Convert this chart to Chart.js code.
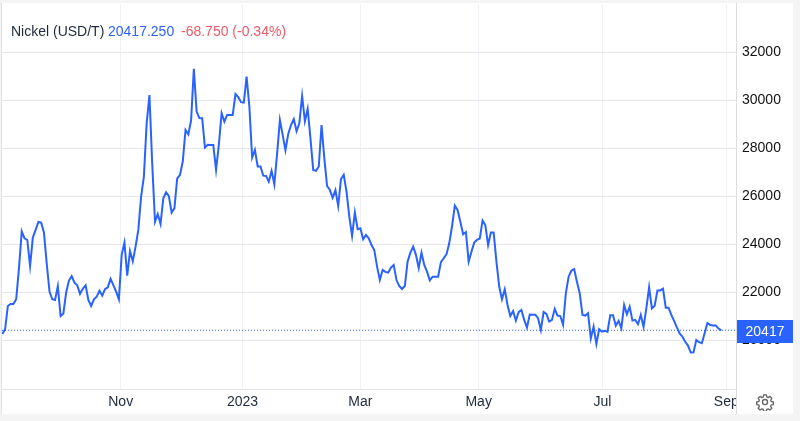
<!DOCTYPE html>
<html><head><meta charset="utf-8">
<style>html,body{margin:0;padding:0;background:#fff;overflow:hidden}#wrap{position:relative;width:800px;height:421px}canvas{display:block}
#gear{position:absolute;left:756px;top:393px;width:18px;height:18px}</style>
<script src="https://cdn.jsdelivr.net/npm/chart.js@4"></script></head>
<body><div id="wrap"><canvas id="c" width="800" height="421"></canvas>
<svg id="gear" viewBox="0 0 24 24" fill="none" stroke="#666" stroke-width="1.8" stroke-linejoin="round"><circle cx="12" cy="12" r="3.4"/><path d="M10.2 2.5h3.6l.5 2.8 1.9.8 2.4-1.6 2.5 2.5-1.6 2.4.8 1.9 2.8.5v3.6l-2.8.5-.8 1.9 1.6 2.4-2.5 2.5-2.4-1.6-1.9.8-.5 2.8h-3.6l-.5-2.8-1.9-.8-2.4 1.6-2.5-2.5 1.6-2.4-.8-1.9-2.8-.5v-3.6l2.8-.5.8-1.9-1.6-2.4 2.5-2.5 2.4 1.6 1.9-.8z"/></svg></div>
<script>
const seriesName = "Nickel (USD/T)";
const lastText = "20417.250";
const changeText = "-68.750 (-0.34%)";
const lastPrice = 20417;
const monthLabels = ["Nov","2023","Mar","May","Jul","Sep"];
const monthPositions = [42.65,86.55,128.95,171.6,216.2,260.8];
const priceTicks = [20000,22000,24000,26000,28000,30000,32000];
const nickelValues = [
20264,20458,21430,21514,21514,21708,23000,24540,24250,24180,23100,24280,24600,24930,24900,24490,23200,22030,21710,21680,
22260,21010,21120,21990,22490,22670,22400,22290,21930,22150,22290,21680,21430,21710,21820,22070,21860,22130,22210,22560,
22300,22030,21710,23560,24070,22690,23720,23290,23900,24600,25990,26820,29040,30220,27370,24940,25260,24850,25920,26170,
26010,25320,25500,26750,26890,27440,28760,28580,29150,31310,29530,29260,29250,28030,28150,28140,28140,27100,28140,29460,
29110,29390,29390,29390,30260,30130,29920,29900,30990,29740,27610,27930,27240,27240,26860,26850,26610,27060,26500,27790,
29180,28560,27920,28600,28970,29220,28710,29040,30180,29130,29640,28420,27100,27060,27240,28970,27580,26430,26260,25940,
26260,25600,26720,26890,26190,25150,24350,25320,24630,24670,24210,24390,24250,23970,23760,23070,22510,22930,22850,22820,
23030,23140,22510,22260,22140,22260,23280,23650,23900,23560,23010,23650,23140,22860,22500,22650,22650,22650,23260,23420,
23580,24040,24740,25610,25430,24940,24420,24510,23280,23690,24070,24190,24240,24990,24800,23970,24490,24490,23280,22240,
21710,22130,21470,21010,21220,20820,21170,21260,20850,20530,21070,21060,21060,20920,20430,21180,21100,20780,20850,21310,
21030,21010,20650,21960,22650,22900,22970,22440,21960,21060,21030,21130,20080,20570,19850,20460,20360,20400,20350,21040,
21040,20610,20810,20500,21470,21080,21400,20820,20850,20670,21060,20560,21330,22210,21330,21440,22080,22080,22150,21360,
21360,21060,20810,20540,20290,20150,19940,19780,19490,19500,20010,19920,19880,20290,20720,20640,20620,20620,20490,20417];
const lineColor = "#2962ff";
const xMin = -0.11, xMax = 264.3, yMin = 17971, yMax = 34012;

const frame = {
  id:'frame',
  beforeDraw(ch){
    const g=ch.ctx;
    g.save();
    g.fillStyle='#f4f4f4'; g.fillRect(0,0,800,421);
    g.fillStyle='#fff'; g.fillRect(2,3,791,411);
    g.fillStyle='#e2e2e2'; g.fillRect(1,3,1,411);
    g.restore();
  },
  afterDraw(ch){
    const g=ch.ctx, y=ch.scales.y, py=y.getPixelForValue(lastPrice);
    g.save();
    // the axis strip hides whatever overflows the plot on the right
    g.fillStyle='#fff'; g.fillRect(737,390,56,23);
    g.fillStyle='#dcdcdc'; g.fillRect(736,3,1,411);
    g.fillStyle=lineColor; g.fillRect(737,Math.round(py)-10,56,23);
    g.fillStyle='#fff'; g.font='14px "Liberation Sans",Arial,sans-serif';
    g.textAlign='center'; g.textBaseline='middle';
    g.fillText(String(lastPrice),765,Math.round(py)+2.5);
    g.textAlign='left'; g.font='14px "Liberation Sans",Arial,sans-serif';
    g.fillStyle='#1c2a3a'; g.fillText(seriesName,11,32);
    g.fillStyle='#2d62f5'; g.fillText(lastText,108,32);
    g.fillStyle='#ef5a66'; g.fillText(changeText,181,32);
    g.restore();
  }
};
new Chart(document.getElementById('c'),{
  type:'line',
  data:{datasets:[
    {data:nickelValues.map((v,i)=>({x:i,y:v})),borderColor:lineColor,borderWidth:2,pointRadius:0,tension:0,order:1},
    {data:[{x:xMin,y:lastPrice},{x:xMax,y:lastPrice}],borderColor:lineColor,borderWidth:1,borderDash:[1,2],pointRadius:0,order:2}
  ]},
  plugins:[frame],
  options:{
    responsive:false,animation:false,
    layout:{padding:{left:2,top:4,right:7,bottom:7}},
    plugins:{legend:{display:false},tooltip:{enabled:false}},
    scales:{
      x:{type:'linear',min:xMin,max:xMax,
        afterBuildTicks(s){s.ticks=monthPositions.map(v=>({value:v}));},
        afterFit(s){s.height=25;s.paddingLeft=0;s.paddingRight=0;},
        grid:{color:'#eef2f6',drawTicks:false},
        border:{display:true,color:'#e4e4e4'},
        ticks:{autoSkip:false,maxRotation:0,minRotation:0,padding:5,color:'#1c2a3a',
          font:{family:'"Liberation Sans",Arial,sans-serif',size:14},
          callback:v=>monthLabels[monthPositions.indexOf(v)]}},
      y:{position:'right',min:yMin,max:yMax,
        afterBuildTicks(s){s.ticks=priceTicks.map(v=>({value:v}));},
        afterFit(s){s.width=57;s.paddingTop=0;s.paddingBottom=0;},
        grid:{color:'#e6e6e6',drawTicks:false},
        border:{display:false},
        ticks:{padding:6,color:'#111',
          font:{family:'"Liberation Sans",Arial,sans-serif',size:14},
          callback:v=>String(v)}}
    }
  }
});
</script></body></html>
